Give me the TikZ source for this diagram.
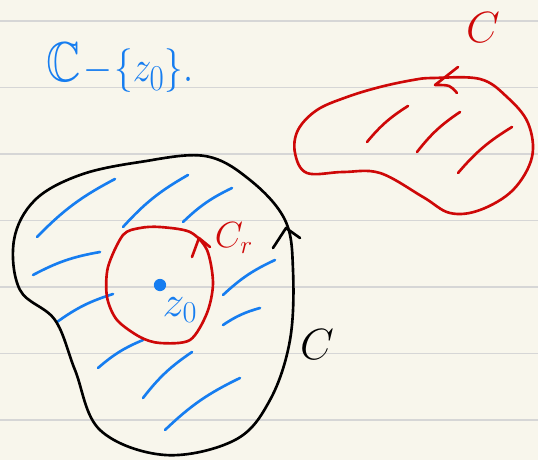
\documentclass[tikz,border=0pt]{standalone}
\usepackage{amsmath, amssymb}
\usepackage{tikz}
\definecolor{inkBlue}{RGB}{22, 125, 240}
\definecolor{inkRed}{RGB}{206, 8, 8}
\definecolor{paperBg}{RGB}{248, 246, 236}
\definecolor{ruleGray}{RGB}{214, 214, 214}

\begin{document}
\begin{tikzpicture}[x=0.02cm, y=-0.02cm, line cap=round, line join=round,
    ink/.style={line width=1.5pt}]
        \fill[paperBg] (0,0) rectangle (538,460);
        \useasboundingbox (0,0) rectangle (538,460);
        \foreach \y in {21,87.5,154,220.5,287,353.5,420}
          \draw[ruleGray, line width=0.9pt] (0,\y) -- (538,\y);
        % hatching of the big region
        \foreach \a/\b/\c/\d in {37/237/115/179, 123/227/188/175, 183/222/232/188,
            33/275/100/252, 57/322/113/294, 223/295/275/260, 223/325/260/308,
            98/368/143/340, 143/398/192/352, 165/430/240/378}
          \draw[inkBlue, ink] (\a,\b) to[bend left=9] (\c,\d);
        \draw[ink] plot[smooth cycle, tension=0.6] coordinates {(205,156) (250,180) (285,220)
            (293,270) (290,340) (270,400) (235,440) (165,455) (100,430) (75,370)
            (55,320) (20,290) (14,240) (35,200) (80,175) (140,162)};
        \draw[ink] (273,248) -- (286,228) -- (300,238);
        \draw[inkRed, ink] plot[smooth cycle, tension=0.5] coordinates {(160,227) (190,232)
            (207,250) (213,283) (207,313) (190,340) (160,343) (140,337) (117,320)
            (107,297) (108,267) (123,235) (140,228)};
        \draw[inkRed, ink] (192,257) -- (199,238) -- (210,247);
        \node[circle, fill=inkBlue, inner sep=0pt, minimum size=7pt] (zdot) at (160,285) {};
        \node[inkBlue, font=\fontsize{24}{24}\selectfont] (zlabel) at (180,310) {$z_0$};
        \node[inkRed, font=\fontsize{22}{22}\selectfont] (crlabel) at (234,238) {$C_r$};
        \node[font=\fontsize{24}{24}\selectfont] (clabel) at (317,345) {$C$};
        % the red region
        \foreach \a/\b/\c/\d in {367/142/408/106, 417/152/460/112, 458/173/512/127}
          \draw[inkRed, ink] (\a,\b) to[bend left=9] (\c,\d);
        \draw[inkRed, ink] plot[smooth cycle, tension=0.6] coordinates {(433,78) (480,79)
            (507,97) (528,123) (532,157) (513,190) (480,210) (450,213) (423,197)
            (380,173) (343,172) (307,173) (295,153) (298,130) (317,110) (347,97)
            (380,87) (413,80)};
        \draw[inkRed, ink] (458,67) -- (435,85) .. controls (450,85) .. (457,93);
        \node[inkRed, font=\fontsize{30}{30}\selectfont] (credlabel) at (483,28) {$C$};
        \node[inkBlue, font=\fontsize{32}{32}\selectfont] (title) at (120,68)
          {\scalebox{0.85}[1]{$\mathbb{C}\!-\!\{z_0\}.$}};
      \end{tikzpicture}
\end{document}
